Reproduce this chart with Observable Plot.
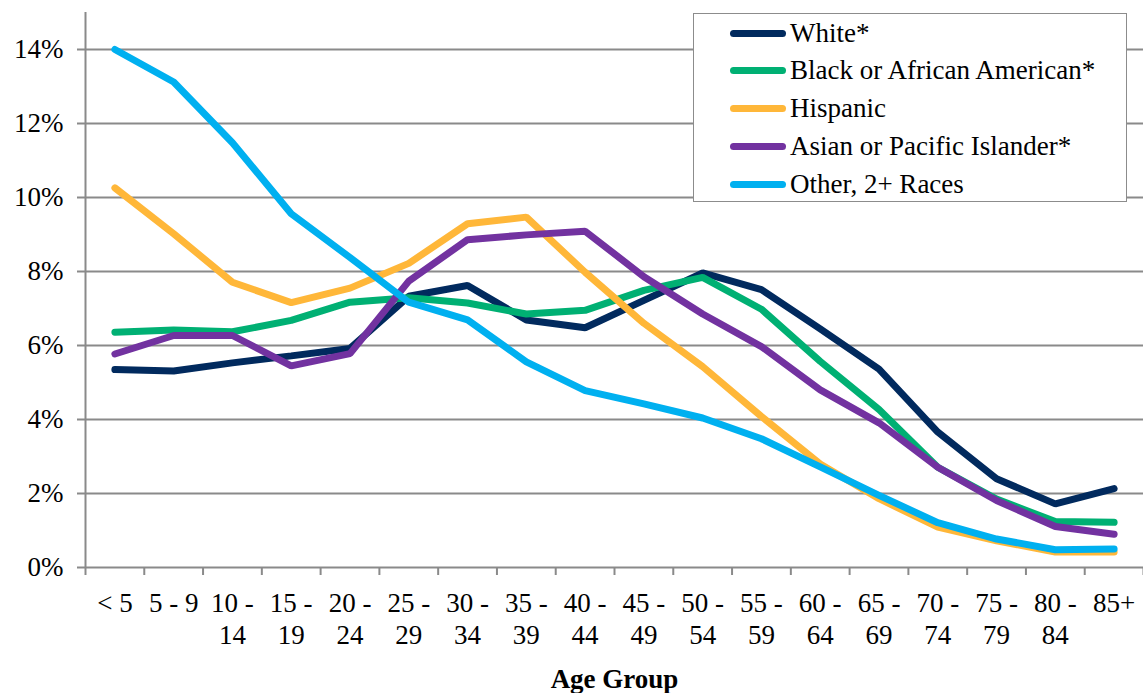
<!DOCTYPE html>
<html>
<head>
<meta charset="utf-8">
<script src="https://cdn.jsdelivr.net/npm/d3@7"></script>
<script src="https://cdn.jsdelivr.net/npm/@observablehq/plot@0.6"></script>
<style>
  body { margin: 0; background: #fff; }
  #chart { position: relative; width: 1143px; height: 693px; font-family: "Liberation Serif", serif; }
  #legend {
    position: absolute; left: 693px; top: 13px; width: 432px; height: 187px;
    border: 1.5px solid #8c8c8c; background: #fff; box-sizing: content-box;
  }
  .item { position: absolute; left: 36px; height: 30px; display: flex; align-items: center; font-size: 27px; color: #000; }
  .swatch { width: 56px; height: 7px; border-radius: 4px; margin-right: 4px; }
</style>
</head>
<body>
<div id="chart"></div>
<script>
// Age groups along the x axis
const ageGroups = ["< 5", "5 - 9", "10 -\n14", "15 -\n19", "20 -\n24", "25 -\n29", "30 -\n34", "35 -\n39", "40 -\n44", "45 -\n49", "50 -\n54", "55 -\n59", "60 -\n64", "65 -\n69", "70 -\n74", "75 -\n79", "80 -\n84", "85+"];

// Share of each group's population in each age group (%)
const white    = [5.35, 5.31, 5.53, 5.72, 5.92, 7.33, 7.62, 6.69, 6.48, 7.22, 7.96, 7.51, 6.45, 5.36, 3.66, 2.40, 1.72, 2.13];
const black    = [6.36, 6.42, 6.37, 6.68, 7.17, 7.29, 7.15, 6.85, 6.95, 7.49, 7.84, 6.98, 5.57, 4.27, 2.71, 1.85, 1.24, 1.22];
const hispanic = [10.26, 9.02, 7.71, 7.16, 7.55, 8.22, 9.29, 9.47, 7.98, 6.60, 5.43, 4.08, 2.80, 1.86, 1.09, 0.72, 0.42, 0.42];
const asian    = [5.77, 6.27, 6.27, 5.45, 5.78, 7.74, 8.86, 8.99, 9.09, 7.86, 6.85, 5.97, 4.80, 3.91, 2.71, 1.81, 1.11, 0.90];
const other    = [14.00, 13.12, 11.48, 9.56, 8.38, 7.17, 6.69, 5.56, 4.78, 4.42, 4.04, 3.48, 2.72, 1.95, 1.21, 0.77, 0.48, 0.50];

const seriesNames = ["White*", "Black or African American*", "Hispanic", "Asian or Pacific Islander*", "Other, 2+ Races"];
const seriesColors = ["#012a5e", "#00b073", "#ffb739", "#7232a0", "#00b0f0"];
const yTicks = [0, 2, 4, 6, 8, 10, 12, 14];

const seriesValues = [white, black, hispanic, asian, other];
const rows = seriesValues.flatMap((vals, s) =>
  vals.map((v, i) => ({series: seriesNames[s], i, value: v}))
);

const gray = "#8a8a8a";
const font = "Liberation Serif, serif";

const chart = Plot.plot({
  width: 1143,
  height: 693,
  marginLeft: 85,
  marginRight: 0,
  marginTop: 12,
  marginBottom: 126,
  style: {fontFamily: font, fontSize: "27px", color: "#000", background: "#fff"},
  x: {type: "linear", domain: [-0.5, ageGroups.length - 0.5], axis: null},
  y: {domain: [0, 15], axis: null},
  color: {domain: seriesNames, range: seriesColors},
  marks: [
    // horizontal gridlines, extended slightly left as tick marks
    Plot.ruleY(yTicks.slice(1), {x1: -0.5 - 8 / 58.8, x2: ageGroups.length - 0.5, stroke: gray, strokeWidth: 2}),
    // y labels
    Plot.axisY({ticks: yTicks, tickSize: 0, tickPadding: 22, tickFormat: d => d + "%", fontSize: 27, label: null}),
    // y axis line
    Plot.ruleX([-0.5], {y1: 0, y2: 15, stroke: gray, strokeWidth: 2}),
    // x axis line and tick marks between categories
    Plot.ruleY([0], {x1: -0.5 - 8 / 58.8, x2: ageGroups.length - 0.5, stroke: gray, strokeWidth: 2}),
    Plot.axisX({ticks: d3.range(-0.5, ageGroups.length, 1), tickSize: 8, tickFormat: () => "", stroke: gray, strokeWidth: 2, label: null}),
    // category labels
    Plot.text(ageGroups, {x: (d, i) => i, y: 0, text: d => d, dy: 21, lineAnchor: "top", lineHeight: 1.2, fontSize: 27, fill: "#000"}),
    // axis title
    Plot.text(["Age Group"], {x: (ageGroups.length - 1) / 2, y: 0, text: d => d, dy: 112, fontSize: 27, fontWeight: "bold", fill: "#000"}),
    // series lines
    Plot.line(rows, {x: "i", y: "value", z: "series", stroke: "series", strokeWidth: 7, strokeLinecap: "round", strokeLinejoin: "miter"})
  ]
});

const root = document.getElementById("chart");
root.appendChild(chart);

// legend box
const legend = document.createElement("div");
legend.id = "legend";
seriesNames.forEach((name, k) => {
  const item = document.createElement("div");
  item.className = "item";
  item.style.top = (4 + k * 37.8) + "px";
  const sw = document.createElement("span");
  sw.className = "swatch";
  sw.style.background = seriesColors[k];
  const label = document.createElement("span");
  label.textContent = name;
  item.appendChild(sw);
  item.appendChild(label);
  legend.appendChild(item);
});
root.appendChild(legend);
</script>
</body>
</html>
